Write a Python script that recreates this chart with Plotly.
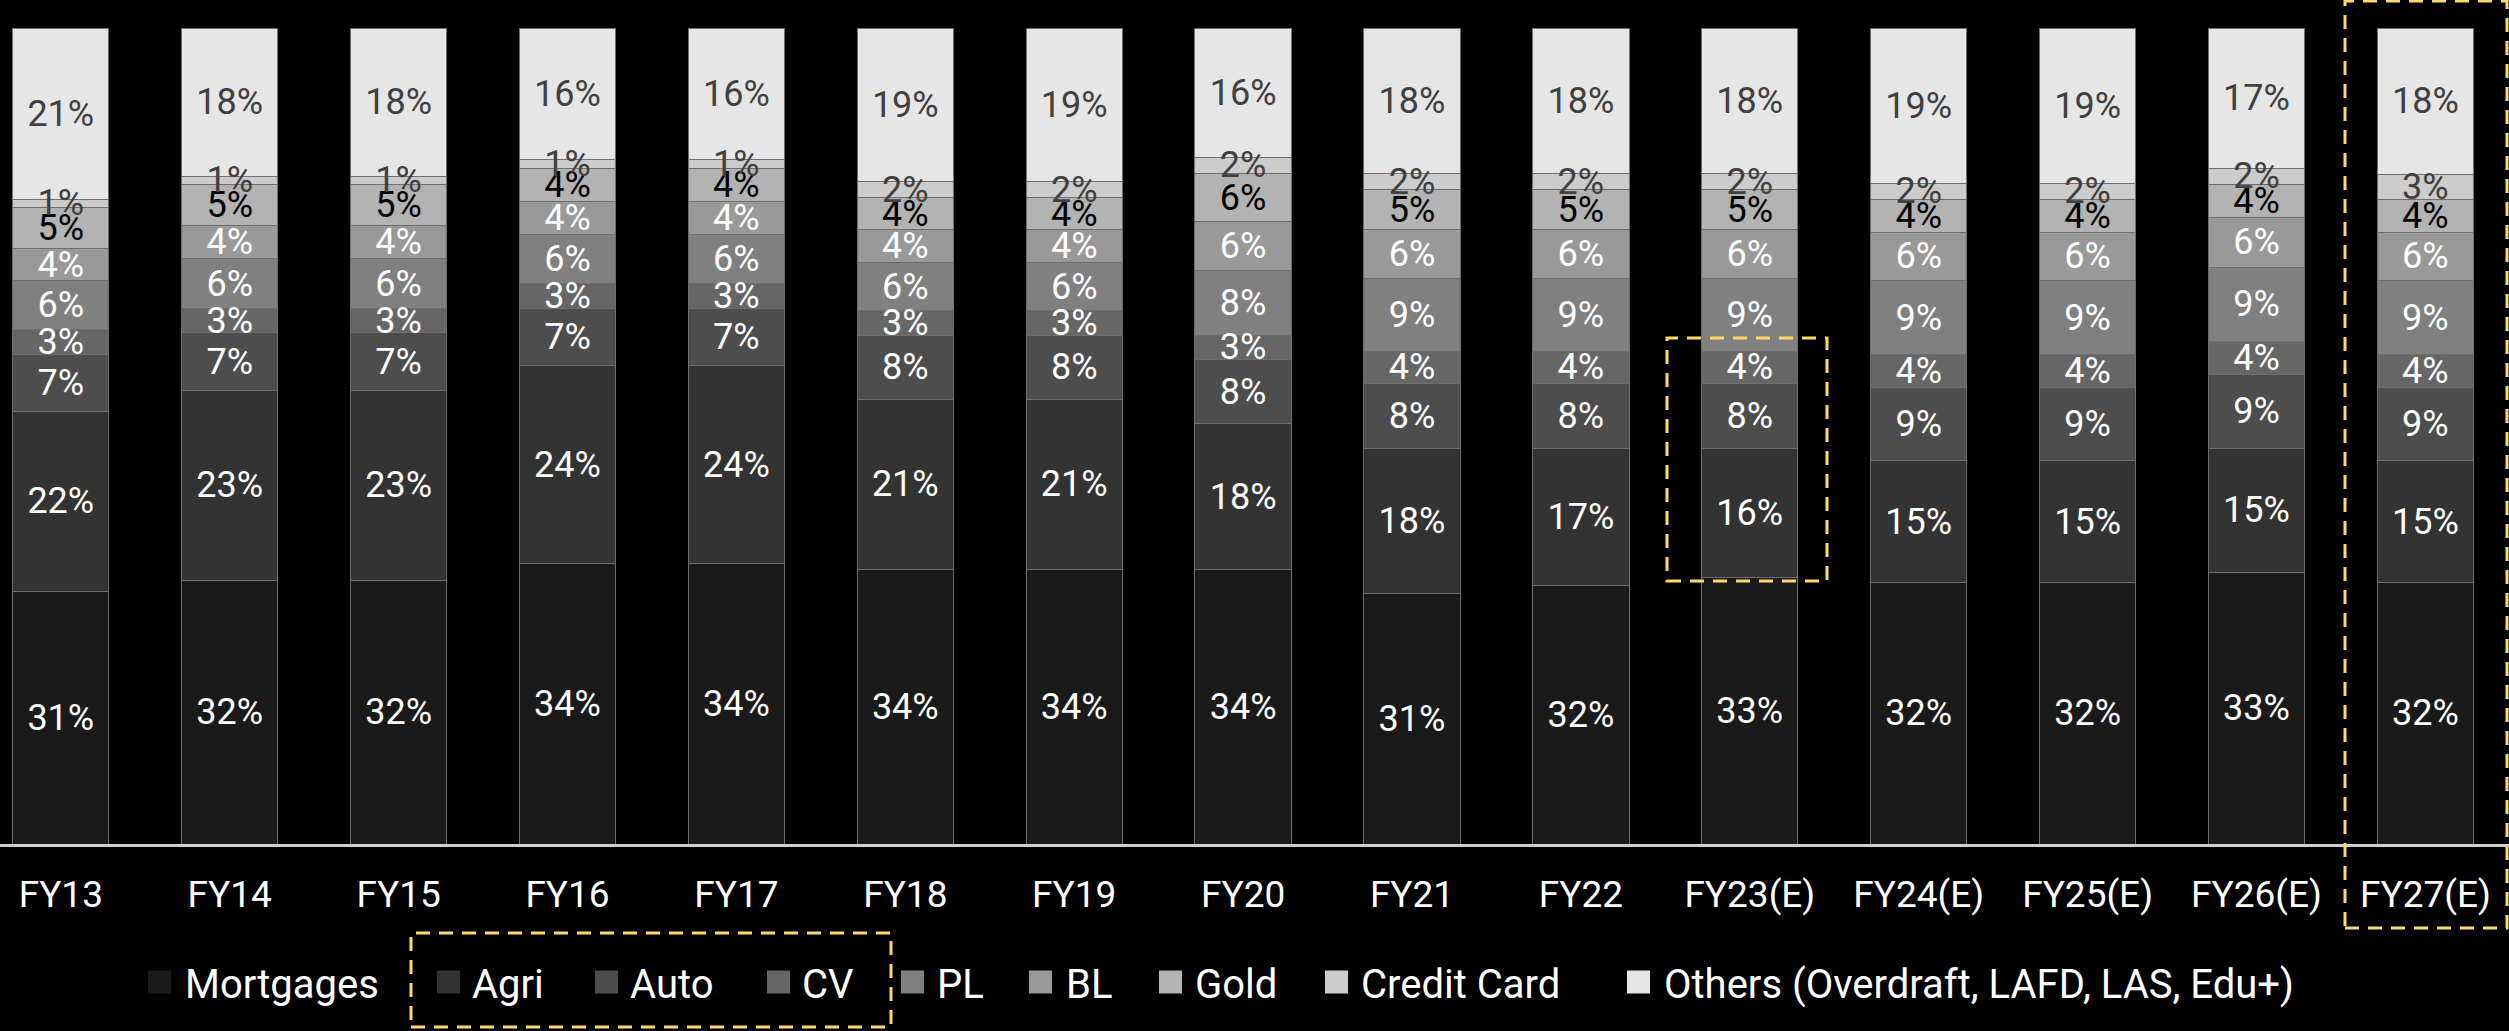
import plotly.graph_objects as go

categories = ["FY13", "FY14", "FY15", "FY16", "FY17", "FY18", "FY19", "FY20",
              "FY21", "FY22", "FY23(E)", "FY24(E)", "FY25(E)", "FY26(E)", "FY27(E)"]

mortgages = [31, 32, 32, 34, 34, 34, 34, 34, 31, 32, 33, 32, 32, 33, 32]
agri      = [22, 23, 23, 24, 24, 21, 21, 18, 18, 17, 16, 15, 15, 15, 15]
auto      = [7, 7, 7, 7, 7, 8, 8, 8, 8, 8, 8, 9, 9, 9, 9]
cv        = [3, 3, 3, 3, 3, 3, 3, 3, 4, 4, 4, 4, 4, 4, 4]
pl        = [6, 6, 6, 6, 6, 6, 6, 8, 9, 9, 9, 9, 9, 9, 9]
bl        = [4, 4, 4, 4, 4, 4, 4, 6, 6, 6, 6, 6, 6, 6, 6]
gold      = [5, 5, 5, 4, 4, 4, 4, 6, 5, 5, 5, 4, 4, 4, 4]
credit    = [1, 1, 1, 1, 1, 2, 2, 2, 2, 2, 2, 2, 2, 2, 3]
others    = [21, 18, 18, 16, 16, 19, 19, 16, 18, 18, 18, 19, 19, 17, 18]

series_names = ["Mortgages", "Agri", "Auto", "CV", "PL", "BL", "Gold",
                "Credit Card", "Others (Overdraft, LAFD, LAS, Edu+)"]
series_values = [mortgages, agri, auto, cv, pl, bl, gold, credit, others]
fill_colors = ["#1a1a1a", "#333333", "#4d4d4d", "#666666", "#808080",
               "#999999", "#b3b3b3", "#cccccc", "#e6e6e6"]
text_colors = ["#ffffff", "#ffffff", "#ffffff", "#ffffff", "#ffffff",
               "#ffffff", "#000000", "#404040", "#404040"]

FONT = "Roboto"
fig = go.Figure()
# filled bars (bottom layer)
for name, vals, fc in zip(series_names, series_values, fill_colors):
    fig.add_trace(go.Bar(
        name=name, x=categories, y=vals,
        marker=dict(color=fc, line=dict(color="#6e6e6e", width=1)),
        hoverinfo="skip", showlegend=False,
        xaxis="x", yaxis="y",
    ))
# identical transparent stack on an overlaid axis pair, carrying the labels on top
for name, vals, tc in zip(series_names, series_values, text_colors):
    fig.add_trace(go.Bar(
        name=name, x=categories, y=vals,
        text=[f"{v}%" for v in vals],
        textposition="inside", insidetextanchor="middle",
        constraintext="none",
        textfont=dict(family=FONT, size=36, color=tc),
        marker=dict(color="rgba(0,0,0,0)", line=dict(width=0)),
        hoverinfo="skip", showlegend=False,
        xaxis="x2", yaxis="y2",
    ))

W, H = 2509, 1031
top, bottom = 28, 187
ph = H - top - bottom

def py(pix):
    return (H - bottom - pix) / ph

def px(pix):
    return pix / W

yellow = dict(color="#FFD966", width=3, dash="14px,9px")
shapes = [
    dict(type="rect", xref="paper", yref="paper",
         x0=px(411), x1=px(891), y0=py(1027), y1=py(933), line=yellow),
    dict(type="rect", xref="paper", yref="paper",
         x0=px(1667), x1=px(1827), y0=py(581), y1=py(338), line=yellow),
    dict(type="rect", xref="paper", yref="paper",
         x0=px(2345), x1=px(2507), y0=py(928), y1=py(1), line=yellow),
]

# custom legend (swatch left edge, text left edge) in pixels
legend_swatch_x = [148, 437, 595, 767, 901, 1029, 1159, 1325, 1627]
legend_text_x = [183, 470, 628, 800, 935, 1064, 1193, 1359, 1662]
legend_y = 982
sw = 23
annotations = []
for name, fc, sx, tx in zip(series_names, fill_colors, legend_swatch_x, legend_text_x):
    shapes.append(dict(type="rect", xref="paper", yref="paper",
                       x0=px(sx), x1=px(sx + sw), y0=py(legend_y + sw / 2), y1=py(legend_y - sw / 2),
                       fillcolor=fc, line=dict(width=0)))
    annotations.append(dict(xref="paper", yref="paper", x=px(tx), y=py(legend_y + 2),
                            xanchor="left", yanchor="middle", text=name, showarrow=False,
                            font=dict(family=FONT, size=40, color="#ffffff")))

axis_common = dict(range=[-0.36, 14.495], showgrid=False, zeroline=False)
fig.update_layout(
    width=W, height=H,
    barmode="stack", barnorm="percent", bargap=0.43,
    paper_bgcolor="#000000", plot_bgcolor="#000000",
    margin=dict(l=0, r=0, t=top, b=bottom, pad=0),
    font=dict(family=FONT, color="#ffffff"),
    showlegend=False,
    xaxis=dict(**axis_common,
               showline=True, linecolor="#d0d0d0", linewidth=3,
               ticks="outside", ticklen=16, tickcolor="rgba(0,0,0,0)",
               tickfont=dict(family=FONT, size=37, color="#ffffff")),
    yaxis=dict(range=[0, 100], visible=False, showgrid=False),
    xaxis2=dict(**axis_common, overlaying="x", anchor="y2", visible=False,
                categoryorder="array", categoryarray=categories),
    yaxis2=dict(range=[0, 100], overlaying="y", anchor="x2", visible=False, showgrid=False),
    shapes=shapes,
    annotations=annotations,
)

fig.write_html("out.html")
